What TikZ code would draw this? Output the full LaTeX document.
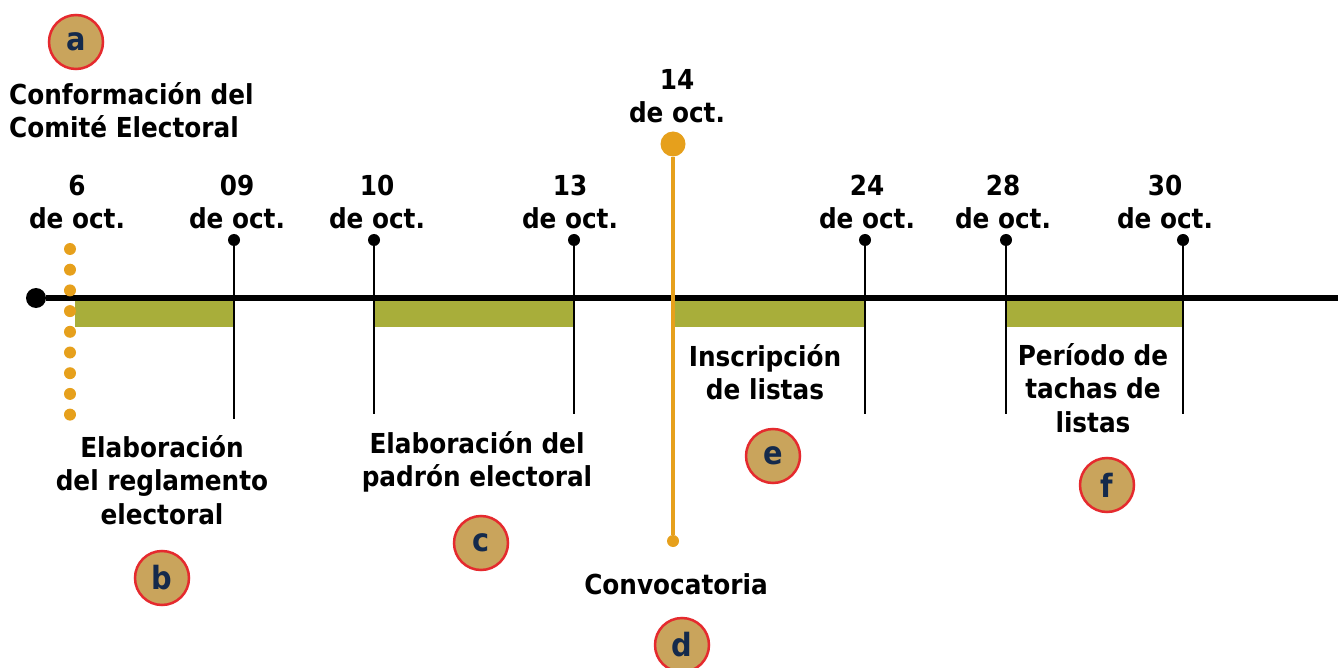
\documentclass[tikz,border=0pt]{standalone}
\usepackage{fontspec}
\setmainfont{DejaVu Sans Condensed}
\definecolor{barolive}{HTML}{A8AE3A}
\definecolor{pinorange}{HTML}{E6A01C}
\definecolor{badgefill}{HTML}{C9A45C}
\definecolor{badgeline}{HTML}{E52A2E}
\definecolor{badgetext}{HTML}{142A4C}

\begin{document}
\begin{tikzpicture}[x=1pt, y=-1pt,
  every node/.style={
    font=\bfseries\fontsize{27.5}{33.5}\selectfont, align=center, inner sep=0pt,
  },
  badge/.style={
    circle, draw=badgeline, line width=2.5pt, fill=badgefill,
    minimum size=54pt, text=badgetext,
    font=\bfseries\fontsize{32}{32}\selectfont
  },
  tipdot/.style={circle, fill=black, minimum size=12pt},
  orangedot/.style={circle, fill=pinorange, minimum size=#1},
  tick/.style={line width=2.8pt}
  ]
  \useasboundingbox (0,0) rectangle (1338,668);

  % main line and bars
  \fill[barolive] (75,300) rectangle (234,327);
  \fill[barolive] (374,300) rectangle (574,327);
  \fill[barolive] (672,300) rectangle (865,327);
  \fill[barolive] (1006,300) rectangle (1183,327);
  \node[tipdot, minimum size=20pt] (start) at (36,298) {};
  \coordinate (end) at (1338,298);
  \draw[line width=5.5pt] (start) -- (end);

  % dotted start
  \foreach \k in {0,...,8}
    \node[orangedot=12pt] (o\k) at (70,249+20.7*\k) {};

  % ticks
  \node[tipdot] (t09) at (234,240) {};
  \node[tipdot] (t10) at (374,240) {};
  \node[tipdot] (t13) at (574,240) {};
  \node[tipdot] (t24) at (865,240) {};
  \node[tipdot] (t28) at (1006,240) {};
  \node[tipdot] (t30) at (1183,240) {};
  \coordinate (b09) at (234,419);
  \coordinate (b10) at (374,414);
  \coordinate (b13) at (574,414);
  \coordinate (b24) at (865,414);
  \coordinate (b28) at (1006,414);
  \coordinate (b30) at (1183,414);
  \foreach \d in {09,10,13,24,28,30}
    \draw[tick] (t\d) -- (b\d);

  % convocatoria pin
  \node[orangedot=25pt] (pin) at (673,144) {};
  \node[orangedot=12pt] (pinend) at (673,541) {};
  \draw[pinorange, line width=4.5pt] (pin) -- (pinend);

  % dates
  \node (d06) at (77,202) {6\\de oct.};
  \node (d09) at (237,202) {09\\de oct.};
  \node (d10) at (377,202) {10\\de oct.};
  \node (d13) at (570,202) {13\\de oct.};
  \node (d14) at (677,96) {14\\de oct.};
  \node (d24) at (867,202) {24\\de oct.};
  \node (d28) at (1003,202) {28\\de oct.};
  \node (d30) at (1165,202) {30\\de oct.};

  % stages
  \node[align=left, anchor=west] (conf) at (9,110) {Conformación del\\Comité Electoral};
  \node (regl) at (162,480) {Elaboración\\del reglamento\\electoral};
  \node (padr) at (477,462) {Elaboración del\\padrón electoral};
  \node (conv) at (676,584) {Convocatoria};
  \node (insc) at (765,372) {Inscripción\\de listas};
  \node (tach) at (1093,388) {Período de\\tachas de\\listas};

  % badges
  \node[badge] (a) at (76,42) {a};
  \node[badge] (b) at (162,578) {b};
  \node[badge] (c) at (481,543) {c};
  \node[badge] (d) at (682,645) {d};
  \node[badge] (e) at (773,456) {e};
  \node[badge] (f) at (1107,485) {f};
\end{tikzpicture}
\end{document}
